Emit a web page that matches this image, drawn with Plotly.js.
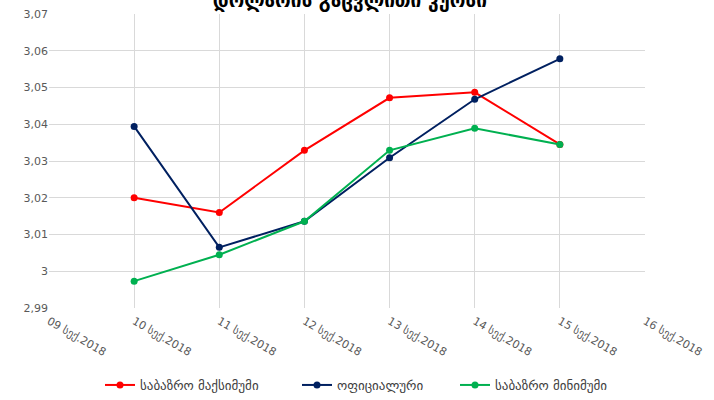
<!DOCTYPE html>
<html>
<head>
<meta charset="utf-8">
<script src="https://cdn.plot.ly/plotly-3.0.1.min.js"></script>
<style>html,body{margin:0;padding:0;background:#fff}#chart{width:714px;height:400px}</style>
</head>
<body>
<div id="chart"></div>
<script>
var dates = ["2018-09-10","2018-09-11","2018-09-12","2018-09-13","2018-09-14","2018-09-15"];
var marketMax = [3.0200, 3.0160, 3.0329, 3.0472, 3.0487, 3.0345];
var official = [3.0394, 3.0065, 3.0136, 3.0309, 3.0468, 3.0578];
var marketMin = [2.9973, 3.0045, 3.0136, 3.0329, 3.0389, 3.0345];
var seriesNames = ["საბაზრო მაქსიმუმი", "ოფიციალური", "საბაზრო მინიმუმი"];
var xRange = ["2018-09-09","2018-09-16"];
var yTickVals = [2.99, 3.00, 3.01, 3.02, 3.03, 3.04, 3.05, 3.06, 3.07];
var yTickText = ["2,99","3","3,01","3,02","3,03","3,04","3,05","3,06","3,07"];
var titleText = "დოლარის გაცვლითი კურსი";

var font = "DejaVu Sans, Liberation Sans, sans-serif";
function tr(y, name, color, lg){
  return {x: dates, y: y, name: name, type: "scatter", mode: "lines+markers", legend: lg,
    line: {color: color, width: 2}, marker: {color: color, size: 7}};
}
var data = [
  tr(marketMax, seriesNames[0], "#FF0000", "legend"),
  tr(official, seriesNames[1], "#002060", "legend2"),
  tr(marketMin, seriesNames[2], "#00B050", "legend3")
];
function lg(px){
  return {orientation: "h", xref: "container", x: px/714, xanchor: "left", yref: "container", y: 0, yanchor: "bottom",
    font: {size: 13, color: "#404040"}, itemwidth: 30, bgcolor: "rgba(0,0,0,0)"};
}
var layout = {
  width: 714, height: 400,
  margin: {l: 49, r: 69, t: 14, b: 92},
  paper_bgcolor: "#fff", plot_bgcolor: "#fff",
  font: {family: font, color: "#595959", size: 11},
  title: {text: titleText, font: {family: font, size: 19, color: "#000", weight: "bold"}, x: 0.49, xanchor: "center", y: 1, yref: "container", yanchor: "middle"},
  xaxis: {type: "date", range: xRange, dtick: 86400000, tick0: "2018-09-09", tickformat: "%d სექ.%Y",
    tickangle: 30, ticklabelstandoff: 4, showgrid: true, gridcolor: "#D9D9D9", gridwidth: 1, zeroline: false, showline: false,
    ticks: "", tickfont: {size: 11, color: "#595959"}, fixedrange: true},
  yaxis: {range: [2.99, 3.07], tickmode: "array", tickvals: yTickVals, ticktext: yTickText, ticklen: 0,
    showgrid: true, gridcolor: "#D9D9D9", gridwidth: 1, zeroline: false, showline: false, ticks: "",
    tickfont: {size: 11, color: "#595959"}},
  showlegend: true,
  legend: lg(100),
  legend2: lg(297),
  legend3: lg(455)
};
Plotly.newPlot("chart", data, layout, {staticPlot: true});
</script>
</body>
</html>
